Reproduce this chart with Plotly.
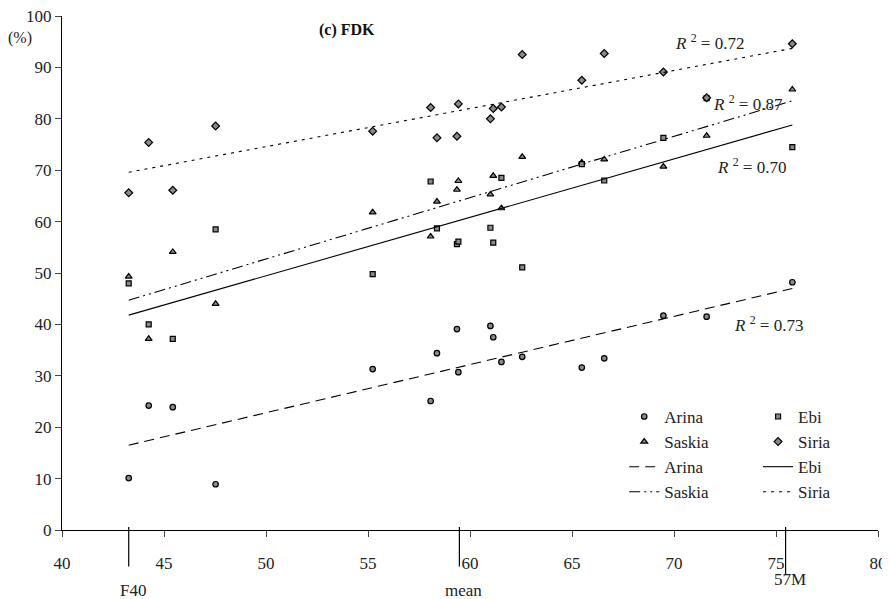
import plotly.graph_objects as go

# Environmental index (x) shared by all cultivars
env_index = [43.27, 44.25, 45.43, 47.53, 55.23, 58.07, 58.38, 59.36, 59.43,
             61.00, 61.14, 61.54, 62.56, 65.48, 66.58, 69.48, 71.60, 75.80]
arina = [10.1, 24.2, 23.9, 8.9, 31.3, 25.1, 34.4, 39.1, 30.7,
         39.7, 37.5, 32.7, 33.7, 31.6, 33.4, 41.7, 41.5, 48.2]
ebi = [48.0, 40.0, 37.2, 58.5, 49.8, 67.8, 58.7, 55.6, 56.1,
       58.8, 55.9, 68.5, 51.1, 71.2, 68.0, 76.3, 84.0, 74.5]
saskia = [49.3, 37.2, 54.1, 44.0, 61.8, 57.1, 63.9, 66.2, 67.9,
          65.3, 68.9, 62.6, 72.6, 71.5, 72.1, 70.7, 76.7, 85.7]
siria = [65.6, 75.4, 66.1, 78.6, 77.6, 82.2, 76.3, 76.6, 82.9,
         80.0, 82.0, 82.3, 92.5, 87.5, 92.7, 89.1, 84.1, 94.6]

# Linear trend lines (values read at the ends of the fitted lines)
trend_x = [43.27, 75.80]
arina_trend = [16.5, 47.0]
ebi_trend = [41.8, 78.8]
saskia_trend = [44.7, 83.5]
siria_trend = [69.6, 93.7]

r2_values = {"Siria": "0.72", "Saskia": "0.87", "Ebi": "0.70", "Arina": "0.73"}

# Reference environments marked below the x axis
ref_env_names = ["F40", "mean", "57M"]
ref_env_x = [43.27, 59.48, 75.47]

x_ticks = [40, 45, 50, 55, 60, 65, 70, 75, 80]
y_ticks = [0, 10, 20, 30, 40, 50, 60, 70, 80, 90, 100]

FONT = "Liberation Serif"
FILL = "#8a8a8a"
FS = 17

fig = go.Figure()

def marker_trace(name, y, symbol, size, legend):
    return go.Scatter(
        x=env_index, y=y, mode="markers", name=name, legend=legend,
        marker=dict(symbol=symbol, size=size, color=FILL,
                    line=dict(color="black", width=1.2)),
        cliponaxis=False)

def line_trace(name, y, dash, legend):
    return go.Scatter(
        x=trend_x, y=y, mode="lines", name=name, legend=legend,
        line=dict(color="black", width=1.1, dash=dash))

# legend column 1
fig.add_trace(marker_trace("Arina", arina, "circle", 5.5, "legend"))
fig.add_trace(marker_trace("Saskia", saskia, "triangle-up", 6, "legend"))
fig.add_trace(line_trace("Arina", arina_trend, "10px,6px", "legend"))
fig.add_trace(line_trace("Saskia", saskia_trend, "11px,4px,2px,4px,2px,4px", "legend"))
# legend column 2
fig.add_trace(marker_trace("Ebi", ebi, "square", 5, "legend2"))
fig.add_trace(marker_trace("Siria", siria, "diamond", 6, "legend2"))
fig.add_trace(line_trace("Ebi", ebi_trend, "solid", "legend2"))
fig.add_trace(line_trace("Siria", siria_trend, "3px,5px", "legend2"))

annotations = []
r2_pos = {"Siria": (69.95, 94.9), "Saskia": (71.8, 83.1),
          "Ebi": (72.0, 70.8), "Arina": (72.85, 40.0)}
for k, v in r2_values.items():
    ax, ay = r2_pos[k]
    annotations.append(dict(
        x=ax, y=ay, xref="x", yref="y", xanchor="left", yanchor="middle",
        text=f"<i>R</i> <sup>2</sup> = {v}", showarrow=False,
        font=dict(family=FONT, size=FS, color="#222")))

annotations.append(dict(
    x=52.5, y=97.3, xref="x", yref="y", xanchor="left", yanchor="middle",
    text="<b>(c) FDK</b>", showarrow=False,
    font=dict(family=FONT, size=16, color="#111")))
annotations.append(dict(
    x=-0.051, y=95.7, xref="paper", yref="y", xanchor="center", yanchor="middle",
    text="(%)", showarrow=False, font=dict(family=FONT, size=16, color="#222")))

shapes = []
label_y = {"F40": -0.117, "mean": -0.117, "57M": -0.097}
line_bottom = {"F40": -0.071, "mean": -0.071, "57M": -0.087}
for nm, xv in zip(ref_env_names, ref_env_x):
    shapes.append(dict(type="line", xref="x", yref="paper", x0=xv, x1=xv,
                       y0=0.006, y1=line_bottom[nm],
                       line=dict(color="black", width=1.2)))
    annotations.append(dict(
        x=xv, y=label_y[nm], xref="x", yref="paper", xanchor="center",
        yanchor="middle", text=nm, showarrow=False, xshift=4,
        font=dict(family=FONT, size=FS, color="#222")))

# The page body has an 8px margin; the figure is sized so that it fits
# the 890x599 window exactly with the plot area where the reference has it.
fig.update_layout(
    width=882, height=591,
    margin=dict(l=54, r=12, t=8, b=69, autoexpand=False),
    paper_bgcolor="white", plot_bgcolor="white",
    font=dict(family=FONT, size=FS, color="#222"),
    showlegend=True,
    legend=dict(x=0.689, y=0.255, xanchor="left", yanchor="top",
                bgcolor="rgba(0,0,0,0)", font=dict(family=FONT, size=FS),
                tracegroupgap=0, itemwidth=30),
    legend2=dict(x=0.853, y=0.255, xanchor="left", yanchor="top",
                 bgcolor="rgba(0,0,0,0)", font=dict(family=FONT, size=FS),
                 tracegroupgap=0, itemwidth=30),
    annotations=annotations, shapes=shapes,
    xaxis=dict(range=[40, 80], tickvals=x_ticks, ticks="outside", ticklen=6,
               tickwidth=1.2, showline=True, linecolor="black", linewidth=1.3,
               showgrid=False, zeroline=False, ticklabelstandoff=11,
               automargin=False, ticklabeloverflow="allow",
               tickfont=dict(family=FONT, size=FS, color="#222")),
    yaxis=dict(range=[0, 100], tickvals=y_ticks, ticks="outside", ticklen=6,
               tickwidth=1.2, showline=True, linecolor="black", linewidth=1.3,
               showgrid=False, zeroline=False, ticklabelstandoff=0,
               automargin=False, ticklabeloverflow="allow",
               tickfont=dict(family=FONT, size=FS, color="#222")),
)

fig.write_html("out.html")
